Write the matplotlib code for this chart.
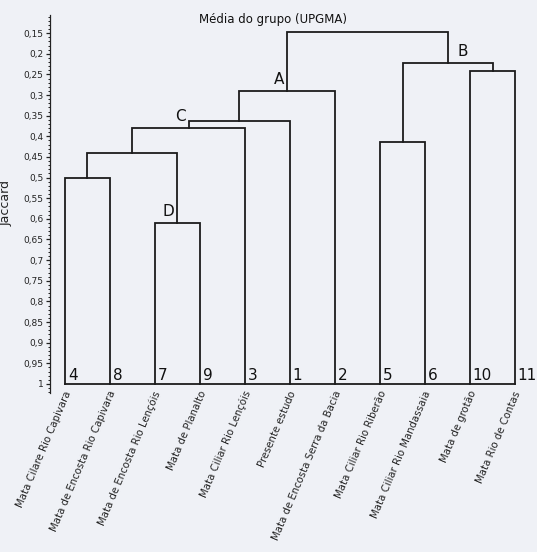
import numpy as np
import matplotlib.pyplot as plt
from matplotlib.ticker import FixedLocator

# Leaves in dendrogram order
leaf_ids = ['4', '8', '7', '9', '3', '1', '2', '5', '6', '10', '11']
leaf_names = [
    'Mata Cilare Rio Capivara',
    'Mata de Encosta Rio Capivara',
    'Mata de Encosta Rio Lençóis',
    'Mata de Planalto',
    'Mata Ciliar Rio Lençóis',
    'Presente estudo',
    'Mata de Encosta Serra da Bacia',
    'Mata Ciliar Rio Riberão',
    'Mata Ciliar Rio Mandassaia',
    'Mata de grotão',
    'Mata Rio de Contas',
]

# UPGMA merges (Jaccard similarity at which the groups join)
merge_left = ['4', '7', 'g48', 'g4879', 'C', 'C1', '5', '10', 'g56', 'A']
merge_right = ['8', '9', 'D', '3', '1', '2', '6', '11', 'g1011', 'B']
merge_height = [0.50, 0.61, 0.44, 0.38, 0.363, 0.29, 0.414, 0.242, 0.223, 0.148]
merge_name = ['g48', 'D', 'g4879', 'C', 'C1', 'A', 'g56', 'g1011', 'B', 'root']

group_letters = ['A', 'B', 'C', 'D']

line_color = '#1c1c1c'
bg = '#eff1f6'

fig = plt.figure(figsize=(5.37, 5.52), dpi=100, facecolor=bg)
ax = fig.add_axes([50 / 537, (552 - 393) / 552, 480 / 537, 378 / 552])
ax.set_facecolor(bg)

# node positions: leaves at 0..n-1, internal nodes at midpoint of children
pos = {lid: (i, 1.0) for i, lid in enumerate(leaf_ids)}
for l, r, h, name in zip(merge_left, merge_right, merge_height, merge_name):
    xl, yl = pos[l]
    xr, yr = pos[r]
    ax.plot([xl, xl, xr, xr], [yl, h, h, yr], color=line_color, lw=1.3,
            solid_joinstyle='miter')
    pos[name] = ((xl + xr) / 2, h)

# baseline along the leaves
ax.plot([0, len(leaf_ids) - 1], [1.0, 1.0], color=line_color, lw=1.3)

# leaf numbers
for i, lid in enumerate(leaf_ids):
    ax.annotate(lid, (i, 1.0), xytext=(2, 1), textcoords='offset points',
                ha='left', va='bottom', fontsize=11, color='#111111')

# group letters
for g in group_letters:
    x, y = pos[g]
    if g == 'B':
        ax.annotate(g, (x, y), xytext=(7, 3), textcoords='offset points',
                    ha='left', va='bottom', fontsize=11, color='#111111')
    else:
        ax.annotate(g, (x, y), xytext=(-2, 3), textcoords='offset points',
                    ha='right', va='bottom', fontsize=11, color='#111111')

# rotated site names
for i, name in enumerate(leaf_names):
    ax.text(i + 0.07, 1.018, name, rotation=67, rotation_mode='anchor',
            ha='right', va='center', fontsize=7.3, color='#222222')

ax.set_xlim(-0.333, 10.333)
ax.set_ylim(1.022, 0.106)

major = np.round(np.arange(0.15, 1.0001, 0.05), 2)
ax.yaxis.set_major_locator(FixedLocator(major))
ax.set_yticklabels([f'{v:g}'.replace('.', ',') for v in major])
ax.yaxis.set_minor_locator(FixedLocator(np.round(np.arange(0.11, 1.021, 0.01), 2)))
ax.tick_params(axis='y', which='major', length=3, width=0.9, labelsize=6.5,
               pad=1.5, colors='#222222')
ax.tick_params(axis='y', which='minor', length=1.5, width=0.7, colors='#222222')
ax.set_xticks([])

for s in ['top', 'right', 'bottom']:
    ax.spines[s].set_visible(False)
ax.spines['left'].set_color('#222222')
ax.spines['left'].set_linewidth(0.9)

ax.set_ylabel('Jaccard', fontsize=9, color='#222222')
ax.yaxis.set_label_coords(-0.077, 0.503)

fig.text(273 / 537, 1 - 20 / 552, 'Média do grupo (UPGMA)', ha='center',
         va='center', fontsize=8.5, color='#111111')

plt.savefig('out.png', dpi=100, facecolor=bg)
plt.close()
